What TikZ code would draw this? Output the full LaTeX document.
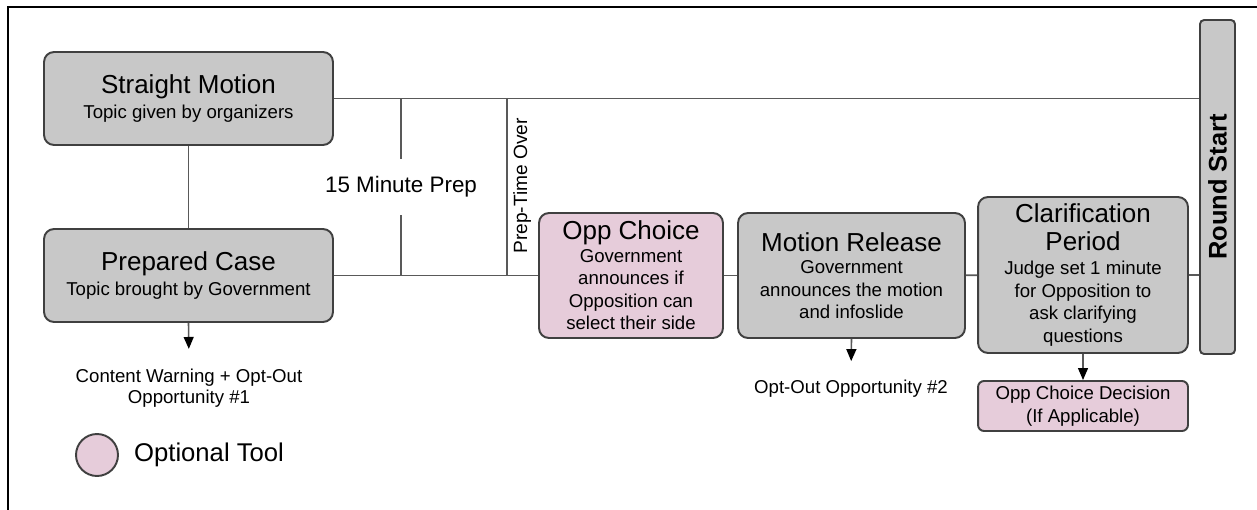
\documentclass[tikz,border=0pt]{standalone}
\usepackage{fontspec}
\setmainfont{Liberation Sans}
\usepackage{xcolor}
\usepackage{tikz}
\usetikzlibrary{positioning, arrows.meta}

\definecolor{boxgray}{HTML}{C8C8C8}
\definecolor{optpink}{HTML}{E6CCDA}
\definecolor{edgegray}{HTML}{404040}
\newcommand{\ttl}{\fontsize{14.8}{17.6}\selectfont}
\newcommand{\bodyfont}{\fontsize{10.6}{12.8}\selectfont}

\begin{document}
\begin{tikzpicture}[x=0.02cm, y=-0.02cm,
			box/.style={draw=edgegray, line width=1.1pt, rounded corners=0.2cm, fill=boxgray,
				align=center, font=\bodyfont, inner sep=1pt},
			opt/.style={box, fill=optpink},
			ln/.style={draw=black!65, line width=0.9pt},
			arr/.style={ln, -{Triangle[length=6.8pt, width=5.6pt, color=black]}},
			note/.style={align=center, font=\fontsize{10.6}{11.6}\selectfont}]
			\useasboundingbox (0,0) rectangle (1257,510);
			\draw[line width=1.1pt] (8,510) -- (8,7) -- (1257,7);
			% motion types
			\node[box, minimum width=5.78cm, minimum height=1.86cm] (sm) at (188.5,98.5)
				{{\ttl Straight Motion}\\[1pt] Topic given by organizers};
			\node[box, minimum width=5.78cm, minimum height=1.86cm] (pc) at (188.5,275.5)
				{{\ttl Prepared Case}\\[1pt] Topic brought by Government};
			% steps after prep
			\node[opt, minimum width=3.68cm, minimum height=2.5cm] (oc) at (631,275.5)
				{{\ttl Opp Choice}\\ Government\\ announces if\\ Opposition can\\ select their side};
			\node[box, minimum width=4.54cm, minimum height=2.5cm] (mr) at (851.5,275.5)
				{{\ttl Motion Release}\\ Government\\ announces the motion\\ and infoslide};
			\node[box, minimum width=4.2cm, minimum height=3.12cm] (cp) at (1083,275)
				{{\ttl Clarification}\\[3pt] {\ttl Period}\\[1pt] Judge set 1 minute\\ for Opposition to\\ ask clarifying\\ questions};
			\node[box, rotate=90, rounded corners=0.08cm, minimum width=6.68cm, minimum height=0.7cm] (rs)
				at (1217.5,187) {\fontsize{14.5}{16}\selectfont\bfseries Round Start};
			\node[opt, rounded corners=0.12cm, minimum width=4.2cm, minimum height=1cm] (ocd) at (1083,406)
				{Opp Choice Decision\\ (If Applicable)};
			% labels
			\node[font=\fontsize{12.75}{15}\selectfont, minimum height=1.12cm] (prep) at (401,187) {15 Minute Prep};
			\coordinate (pto) at (507,98);
			\node[rotate=90, anchor=north, font=\fontsize{10.9}{13}\selectfont] (ptolbl) at (507,186) {Prep-Time Over};
			\node[note] (cw) at (189,388) {Content Warning + Opt-Out\\ Opportunity \#1};
			\node[note] (oo) at (851,389) {Opt-Out Opportunity \#2};
			% legend
			\node[circle, draw=edgegray, line width=1.1pt, fill=optpink, minimum size=0.84cm] (leg) at (97,455) {};
			\node[right=0.18cm of leg, font=\fontsize{14.6}{17}\selectfont] (legtxt) {Optional Tool};
			% connectors
			\draw[ln] (sm) -- (pc);
			\draw[ln] (sm.east) -- (sm.east -| rs.north);
			\draw[ln] (pc.east) -- (oc.west);
			\draw[ln] (oc) -- (mr);
			\draw[ln] (mr) -- (cp);
			\draw[ln] (cp.east) -- (cp.east -| rs.north);
			\draw[ln] (prep.north |- sm.east) -- (prep.north);
			\draw[ln] (prep.south) -- (prep.south |- pc.east);
			\draw[ln] (pto) -- (pto |- pc.east);
			\draw[arr, shorten >=0.28cm] (pc.south) -- (cw.north);
			\draw[arr, shorten >=0.26cm] (mr.south) -- (oo.north);
			\draw[arr] (cp.south) -- (ocd.north);
		\end{tikzpicture}
\end{document}
